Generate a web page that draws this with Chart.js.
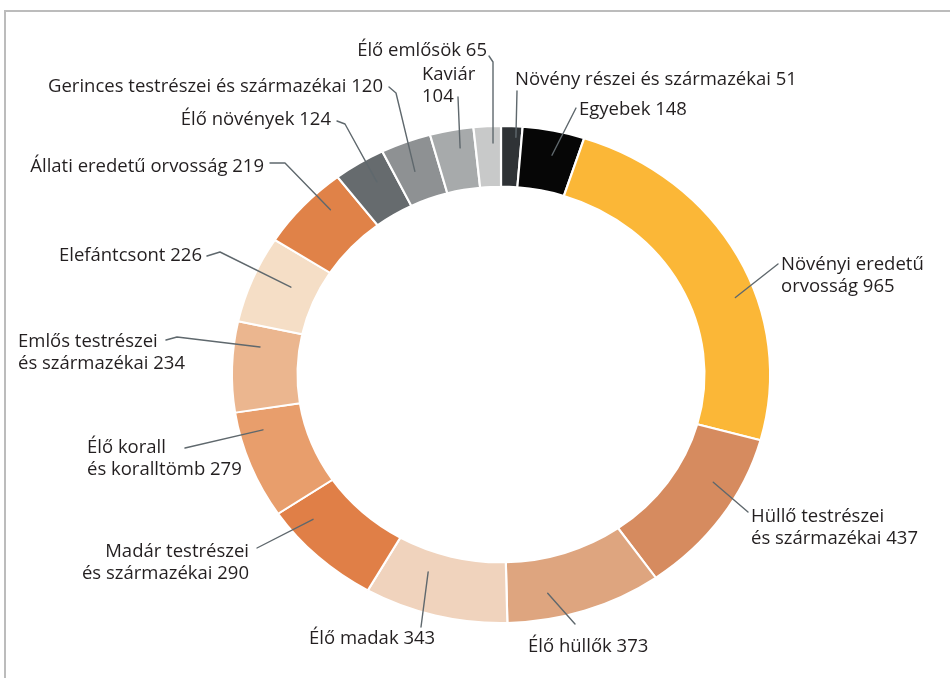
<!DOCTYPE html>
<html>
<head>
<meta charset="utf-8">
<script src="https://cdn.jsdelivr.net/npm/chart.js@4/dist/chart.umd.min.js"></script>
<style>
  html, body { margin: 0; padding: 0; background: #ffffff; }
  #wrap { position: relative; width: 950px; height: 678px; }
  canvas { display: block; }
</style>
</head>
<body>
<div id="wrap"><canvas id="c" width="950" height="678"></canvas></div>
<script>
// ---- data (clockwise from 12 o'clock) ----
const categories = [
  'Növény részei és származékai',
  'Egyebek',
  'Növényi eredetű orvosság',
  'Hüllő testrészei és származékai',
  'Élő hüllők',
  'Élő madak',
  'Madár testrészei és származékai',
  'Élő korall és koralltömb',
  'Emlős testrészei és származékai',
  'Elefántcsont',
  'Állati eredetű orvosság',
  'Élő növények',
  'Gerinces testrészei és származékai',
  'Kaviár',
  'Élő emlősök'
];
const values = [51, 148, 965, 437, 373, 343, 290, 279, 234, 226, 219, 124, 120, 104, 65];
const colors = [
  '#2f3336', '#060606', '#fbb737', '#d68b5f', '#dea57f', '#f0d3bd', '#e07f47',
  '#e89e6c', '#ebb68f', '#f5dec6', '#e08248', '#666b6e', '#8e9193', '#a7aaab', '#c8c9c9'
];

// ---- label layout (text anchor, alignment, line split, leader path) ----
// split: number of words on the first line (0 = single line)
// t: position along the slice's angle, f: position across the ring
const labelLayout = [
  { x: 515, y: 85,  align: 'left',  split: 0, lead: [[517, 91]],              t: 0.72, f: 0.82 },
  { x: 579, y: 115, align: 'left',  split: 0, lead: [[576, 108]],             t: 0.56, f: 0.60 },
  { x: 781, y: 270, align: 'left',  split: 2, lead: [[778, 264]],             t: 0.60, f: 0.69 },
  { x: 751, y: 522, align: 'left',  split: 2, lead: [[748, 512]],             t: 0.34, f: 0.59 },
  { x: 528, y: 652, align: 'left',  split: 0, lead: [[575, 624]],             t: 0.71, f: 0.58 },
  { x: 309, y: 644, align: 'left',  split: 0, lead: [[421, 627]],             t: 0.65, f: 0.34 },
  { x: 249, y: 557, align: 'right', split: 2, lead: [[257, 548]],             t: 0.78, f: 0.63 },
  { x: 87,  y: 453, align: 'left',  split: 2, lead: [[185, 448]],             t: 0.79, f: 0.64 },
  { x: 18,  y: 347, align: 'left',  split: 2, lead: [[166, 340], [177, 337]], t: 0.75, f: 0.60 },
  { x: 202, y: 261, align: 'right', split: 0, lead: [[207, 256], [220, 252]], t: 0.58, f: 0.41 },
  { x: 264, y: 172, align: 'right', split: 0, lead: [[270, 163], [285, 163]], t: 0.68, f: 0.66 },
  { x: 331, y: 125, align: 'right', split: 0, lead: [[337, 121], [345, 124]], t: 0.59, f: 0.60 },
  { x: 383, y: 92,  align: 'right', split: 0, lead: [[389, 87], [396, 93]],   t: 0.44, f: 0.50 },
  { x: 422, y: 80,  align: 'left',  split: 1, lead: [[458, 97]],              t: 0.62, f: 0.69 },
  { x: 487, y: 56,  align: 'right', split: 0, lead: [[489, 56], [493, 62]],   t: 0.69, f: 0.72 }
];

const STRETCH_X = 1.083;      // the reference ring is slightly wider than tall
const FONT = '18.5px "Open Sans", "Liberation Sans", sans-serif';
const TEXT_COLOR = '#231f20';
const LEAD_COLOR = '#5f686d';
const LINE_H = 21.5;

const framePlugin = {
  id: 'frame',
  beforeDraw(chart) {
    const ctx = chart.ctx;
    ctx.save();
    ctx.strokeStyle = '#bcbcbc';
    ctx.lineWidth = 2;
    ctx.beginPath();
    ctx.moveTo(5, 678);
    ctx.lineTo(5, 11);
    ctx.lineTo(950, 11);
    ctx.stroke();
    ctx.restore();
  }
};

const stretchPlugin = {
  id: 'stretch',
  beforeDatasetsDraw(chart) {
    const arc = chart.getDatasetMeta(0).data[0];
    const ctx = chart.ctx;
    ctx.save();
    ctx.translate(arc.x, arc.y);
    ctx.scale(STRETCH_X, 1);
    ctx.translate(-arc.x, -arc.y);
  },
  afterDatasetsDraw(chart) {
    chart.ctx.restore();
  }
};

const labelPlugin = {
  id: 'calloutLabels',
  afterDraw(chart) {
    const ctx = chart.ctx;
    const meta = chart.getDatasetMeta(0);
    ctx.save();
    ctx.font = FONT;
    ctx.textBaseline = 'alphabetic';
    meta.data.forEach((arc, i) => {
      const L = labelLayout[i];
      const p = arc.getProps(['x', 'y', 'startAngle', 'endAngle', 'innerRadius', 'outerRadius'], true);
      const a = p.startAngle + L.t * (p.endAngle - p.startAngle);
      const r = p.innerRadius + L.f * (p.outerRadius - p.innerRadius);
      const ex = p.x + STRETCH_X * r * Math.cos(a);
      const ey = p.y + r * Math.sin(a);

      // leader line
      ctx.strokeStyle = LEAD_COLOR;
      ctx.lineWidth = 1.4;
      ctx.lineJoin = 'round';
      ctx.lineCap = 'round';
      ctx.beginPath();
      L.lead.forEach((pt, k) => { if (k === 0) ctx.moveTo(pt[0], pt[1]); else ctx.lineTo(pt[0], pt[1]); });
      ctx.lineTo(ex, ey);
      ctx.stroke();

      // text
      const words = (categories[i] + ' ' + values[i]).split(' ');
      const lines = L.split > 0
        ? [words.slice(0, L.split).join(' '), words.slice(L.split).join(' ')]
        : [words.join(' ')];
      ctx.fillStyle = TEXT_COLOR;
      ctx.textAlign = L.align;
      lines.forEach((ln, k) => ctx.fillText(ln, L.x, L.y + k * LINE_H));
    });
    ctx.restore();
  }
};

new Chart(document.getElementById('c'), {
  type: 'doughnut',
  data: {
    labels: categories,
    datasets: [{
      data: values,
      backgroundColor: colors,
      borderColor: '#ffffff',
      borderWidth: 2
    }]
  },
  options: {
    responsive: false,
    animation: false,
    events: [],
    cutout: '75.6%',
    rotation: 0,
    layout: { padding: { top: 125, bottom: 54, left: 251, right: 199 } },
    plugins: {
      legend: { display: false },
      tooltip: { enabled: false }
    }
  },
  plugins: [framePlugin, stretchPlugin, labelPlugin]
});
</script>
</body>
</html>
